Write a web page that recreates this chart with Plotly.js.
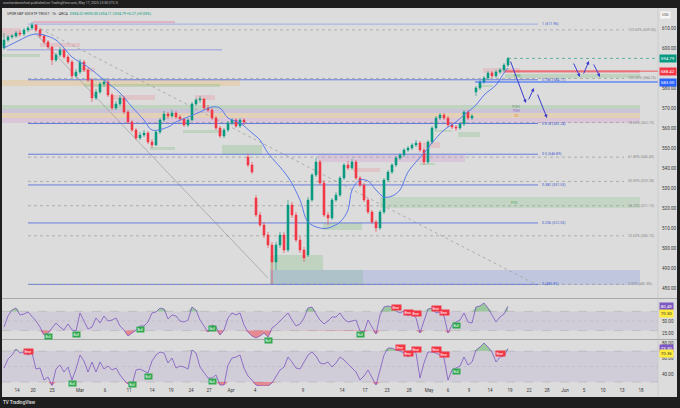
<!DOCTYPE html>
<html>
<head>
<meta charset="utf-8">
<script src="https://cdn.plot.ly/plotly-3.0.1.min.js"></script>
<style>
html,body{margin:0;padding:0;background:#1e1e1e;width:680px;height:408px;overflow:hidden;font-family:Roboto,"Liberation Sans",sans-serif}
#top{position:absolute;left:3px;top:1px;font-size:3.4px;color:#b8b8b8;white-space:nowrap}
#bottom{position:absolute;left:3px;top:400px;font-size:4.5px;color:#cfcfcf;font-weight:bold;white-space:nowrap}
#chart{position:absolute;left:2px;top:8px;width:675px;height:389px}
</style>
</head>
<body>
<div id="top">scottandsonsfinal published on TradingView.com, May 17, 2025 23:50 UTC-5</div>
<div id="chart"></div>
<div id="bottom">TV TradingView</div>
<script>
// candles (one bar per ~4 px)
var barOpen = [
  600, 604, 605.5, 606, 607.5, 607, 609, 610, 611.5, 609,
  606, 603, 600.5, 594, 596.5, 599, 595.5, 593, 586, 588,
  593, 589, 584, 575, 578, 582, 583, 576.5, 570, 572,
  575, 568, 563, 559, 555, 556.5, 557.5, 553, 551.5, 558,
  564, 567, 566, 567.5, 565.5, 564.5, 561.5, 564, 572, 574,
  574.5, 570, 569, 565, 560, 556, 559, 562.5, 564, 561,
  564, 545.5, 541.5, 525, 516.5, 511.5, 506.5, 501.5, 493, 501.5,
  506.5, 499, 521.5, 516.5, 504, 499, 496.5, 524, 536.5, 543,
  532.5, 516.5, 515, 524, 526.5, 535, 541.5, 540, 543, 535,
  531.5, 524, 518, 513, 510, 518, 534, 538, 541.5, 545,
  546.5, 549, 550, 551.5, 552.5, 549, 543, 553, 560, 565,
  566.5, 565, 561.5, 560.5, 560, 562, 568, 565, 578, 580,
  583, 585, 587.5, 586, 588, 589, 591.5
];
var barHigh = [
  607.5, 606.5, 607, 608.5, 609, 610, 611, 613, 612, 610,
  607, 604, 601, 597.5, 600.5, 600, 596.5, 594, 589.5, 594.5,
  594, 590, 585, 579.5, 583, 585, 584, 577.5, 573.5, 576.5,
  576, 569, 564, 560, 558, 559, 558.5, 554.5, 559, 565,
  568.5, 568, 569, 568.5, 566.5, 565, 565, 573, 575, 576,
  575, 571.5, 570, 566, 561, 560, 563.5, 565, 565, 565,
  565, 547, 543, 526.5, 518, 513, 508, 503, 503, 508,
  508, 524, 523, 518, 506, 500.5, 525.5, 537.5, 545, 544,
  534, 518, 525, 528, 536, 542.5, 543.5, 544.5, 544, 536,
  532.5, 525, 519, 514, 519, 535, 539, 542.5, 546, 547.5,
  550, 551, 552.5, 554, 553.5, 550, 554, 561, 566, 567.5,
  567.5, 566, 563, 561.5, 563, 569, 569, 567, 581, 584,
  586, 588.5, 588.5, 589, 590, 592.5, 595.5
];
var barLow = [
  599, 603, 604.5, 605, 606, 606, 608, 609, 608, 605,
  602, 599.5, 591.5, 593, 595.5, 594.5, 592, 585, 585, 587,
  588, 583, 573, 574, 577, 580.5, 575.5, 569, 569, 571,
  567, 562, 558, 554, 554, 555.5, 552, 550, 551, 557,
  563, 564.5, 565, 564.5, 563.5, 560.5, 560.5, 563.5, 571, 572.5,
  569, 568, 564, 559, 555, 555, 558, 561.5, 560, 560,
  561.5, 540.5, 537, 515.5, 510.5, 505, 500, 482, 489, 500,
  497.5, 498, 515, 503, 497.5, 493, 495.5, 523, 535.5, 531.5,
  515.5, 511.5, 514, 523, 525.5, 534, 539, 539, 534, 530.5,
  523, 517, 512, 508, 509, 517, 533, 537, 540.5, 544,
  545.5, 548, 549, 550.5, 548, 541.5, 542, 552, 559, 564,
  564, 560.5, 559.5, 558.5, 559, 561, 564, 564, 576, 579,
  582, 584, 585, 585, 587, 588, 590.5
];
var barClose = [
  604, 605.5, 606, 607.5, 607, 609, 610, 611.5, 609, 606,
  603, 600.5, 594, 596.5, 599, 595.5, 593, 586, 588, 593,
  589, 584, 575, 578, 582, 583, 576.5, 570, 572, 575,
  568, 563, 559, 555, 556.5, 557.5, 553, 551.5, 558, 564,
  567, 566, 567.5, 565.5, 564.5, 561.5, 564, 572, 574, 574.5,
  570, 569, 565, 560, 556, 559, 562.5, 564, 561, 564,
  563, 541.5, 538, 516.5, 511.5, 506.5, 501.5, 493, 501.5, 506.5,
  499, 521.5, 516.5, 504, 499, 495, 524, 536.5, 543, 532.5,
  516.5, 515, 524, 526.5, 535, 541.5, 540, 543, 535, 531.5,
  524, 518, 513, 510, 518, 534, 538, 541.5, 545, 546.5,
  549, 550, 551.5, 552.5, 549, 543, 553, 560, 565, 566.5,
  565, 561.5, 560.5, 560, 562, 568, 565, 566, 580, 583,
  585, 587.5, 586, 588, 589, 591.5, 594.79
];

// moving average, read at a few bars
var maBar = [0, 2, 4, 6, 8, 10, 13, 15, 17, 21, 25, 29, 32, 35, 37, 41, 43, 46, 49, 52, 54, 56, 59, 62, 64, 66, 71, 74, 76, 79, 81, 84, 86, 87, 89, 91, 93, 95, 97, 99, 101, 105, 107, 110, 113, 115, 118, 120, 123, 125, 126];
var maVal = [600, 602, 604, 606, 607, 606.5, 604, 600, 595.5, 590.5, 584, 577.5, 570.5, 564, 559, 560.5, 563, 565.5, 568, 570.5, 570, 565, 562.5, 557.5, 554, 547.5, 535.5, 524, 513, 510, 510, 513, 519, 529, 534, 533.5, 529, 525.5, 526, 529, 538, 547.5, 552.5, 559, 563, 566.5, 571.5, 576.5, 581.5, 587.5, 590];

// two RSI panes
var rsiFast = [
  37.5, 60.4, 72.9, 77, 62.5, 64.6, 68.8, 60.4, 50, 37.5,
  20.8, 25, 35.4, 45.8, 37.5, 31.3, 43.8, 31.3, 29.2, 66.7,
  50, 33.3, 37.5, 56.3, 45.8, 60.4, 50, 52, 56.3, 39.6,
  31.3, 18.8, 25, 31.3, 39.6, 39.6, 47.9, 66.7, 68.8, 77,
  75, 54.2, 62.5, 60.4, 50, 47.9, 52, 79.2, 72.9, 52,
  39.6, 27, 41.7, 37.5, 20.8, 31.3, 56.3, 66.7, 62.5, 66.7,
  41.7, 27, 18.8, 14.6, 18.8, 25, 16.7, 35.4, 41.7, 50,
  56.3, 66.7, 52, 39.6, 43.8, 56.3, 77, 79.2, 64.6, 52,
  43.8, 50, 58.3, 58.3, 66.7, 54.2, 47.9, 50, 52, 29.2,
  27, 52, 37.5, 22.9, 62.5, 79.2, 81.3, 79.2, 70.8, 66.7,
  70.8, 60.4, 66.7, 56.3, 25, 52, 75, 77, 66.7, 68.8,
  60.4, 25, 41.7, 47.9, 52, 66.7, 47.9, 45.8, 79.2, 81.3,
  87.5, 77, 62.5, 47.9, 58.3, 64.6, 80.49
];
var rsiSlow = [
  48.1, 59.7, 64.9, 72.6, 67.5, 68.8, 64.9, 67.5, 46.8, 48.1,
  32.6, 36.5, 25.5, 46.8, 52, 43, 49.4, 32.6, 46.8, 64.9,
  57.2, 43, 55.9, 43, 55.9, 46.8, 50.7, 45.5, 48.1, 39.1,
  32.6, 27.5, 26.2, 45.5, 46.8, 44.2, 41.7, 57.2, 64.9, 68.8,
  67.5, 54.6, 61, 48.1, 50.7, 49.4, 46.8, 71.4, 67.5, 49.4,
  41.7, 35.2, 35.2, 39.1, 26.2, 26.2, 52, 61, 62.3, 64.9,
  48.1, 37.8, 32.6, 26.2, 24.9, 25.2, 24.9, 28.8, 36.5, 45.5,
  49.4, 62.3, 55.9, 48.1, 46.8, 55.9, 64.9, 68.8, 63.6, 54.6,
  53.3, 55.9, 49.4, 54.6, 62.3, 58.5, 53.3, 48.1, 43, 32.6,
  37.8, 45.5, 35.2, 26.2, 45.5, 64.9, 73.9, 73.9, 71.4, 70.1,
  67.5, 62.3, 71.4, 67.5, 35.2, 54.6, 68.8, 68.8, 67.5, 64.9,
  61, 32.6, 45.5, 48.1, 50.7, 62.3, 52, 55.9, 71.4, 75.2,
  80.4, 75.2, 68.8, 55.9, 62.3, 63.6, 73.3
];
var fastSigBar = [11, 18, 34, 52, 66, 89, 98, 101, 103, 108, 110, 113];
var fastSigKind = ['Bull', 'Bull', 'Bull', 'Bull', 'Bull', 'Bull', 'Bear', 'Bear', 'Bear', 'Bear', 'Bear', 'Bull'];
var slowSigBar = [6, 17, 32, 36, 52, 99, 101, 103, 108, 110, 113, 124];
var slowSigKind = ['Bear', 'Bull', 'Bull', 'Bull', 'Bull', 'Bear', 'Bear', 'Bear', 'Bear', 'Bear', 'Bull', 'Bear'];

// fib levels
var fibRatio = ['1', '0.786', '0.618', '0.5', '0.382', '0.236', '0'];
var fibPrice = [611.96, 584.11, 562.24, 546.89, 531.53, 512.53, 481.81];
var extPct = ['0.00%', '23.60%', '38.20%', '50.00%', '61.80%', '78.60%', '100.00%', '123.60%'];
var extPrice = [481.80, 506.10, 521.13, 533.28, 545.43, 562.73, 584.76, 609.06];

// date axis
var dateBar = [3.25, 7.25, 12, 19, 25.25, 31.25, 37, 41.75, 46.75, 51.25, 56.75, 62.75, 74.75, 84.5, 90.25, 95.75, 101.25, 106.25, 111, 116.25, 121.5, 126.5, 131.25, 135.75, 140.25, 145, 149.75, 154.5, 159.25];
var dateText = ['14', '20', '25', 'Mar', '6', '11', '14', '19', '24', '27', 'Apr', '4', '9', '14', '17', '23', '28', 'May', '6', '9', '14', '19', '22', '28', 'Jun', '5', '10', '13', '18'];

// 590.00 sits under the price badges and is not shown
var priceTicks = [480, 490, 500, 510, 520, 530, 540, 550, 560, 570, 580, 600, 610];

// hand drawn projection (bar, price)
var projFrom = [[126.5, 594], [131, 573.5], [133.25, 577.5], [142.25, 593], [144.75, 586.5], [147.25, 592.5]];
var projTo = [[130.5, 572.5], [132.5, 580], [135.75, 565], [144, 585.5], [146.25, 593.5], [149, 585.5]];

var GREEN = 'rgba(76,175,80,0.20)', PINK = 'rgba(242,54,69,0.14)', LAV = 'rgba(149,117,205,0.24)',
    ORNG = 'rgba(255,152,0,0.17)', BLUE = 'rgba(92,124,230,0.22)', MAUVE = 'rgba(206,110,200,0.20)';
// zones: bar from, bar to, low, high, fill
var zones = [
  [-1, 159, 569.5, 571.5, GREEN], [-1, 159, 567.5, 569.5, LAV], [-1, 159, 565, 567.5, ORNG], [-1, 159, 562.5, 565, MAUVE],
  [-1, 59, 581, 584, ORNG], [20, 54, 580.5, 582, GREEN], [0.75, 54.5, 598.7, 599.5, 'rgba(110,125,225,0.45)'],
  [-1, 9, 595.5, 597, GREEN], [-0.5, 4, 605.5, 610, PINK], [9, 19, 600.5, 602.5, PINK], [19, 22.75, 588, 590, PINK],
  [27, 37.75, 574, 576.5, PINK], [47.75, 52.75, 574, 576.5, PINK], [44.75, 54.5, 557.5, 559, GREEN],
  [36.5, 42.75, 549, 550.5, GREEN], [54.5, 64.5, 546.5, 551.5, GREEN],
  [66.5, 159, 481.5, 489, BLUE], [66.5, 89.75, 481.5, 489, 'rgba(76,175,80,0.15)'], [66.5, 79.75, 489, 496.5, GREEN],
  [79.75, 89.5, 509, 512.5, GREEN], [94, 159, 520, 525.5, 'rgba(76,175,80,0.16)'], [78.5, 115.25, 543, 546.5, MAUVE],
  [87.25, 94, 538, 540, PINK], [104.75, 109, 550, 553, PINK], [104, 107.75, 541.5, 542.5, GREEN],
  [113.5, 119, 555.5, 558, GREEN], [107.75, 112, 558, 559, GREEN], [119.75, 129, 587.5, 590, PINK],
  [125.25, 159, 587.5, 589, 'rgba(242,54,69,0.28)'], [125.25, 159, 585, 587, GREEN], [118.5, 122.25, 580.5, 581.5, GREEN],
  [7.25, 42.75, 612.7, 613.3, 'rgba(233,90,150,0.6)']
];
// trendlines: from bar, from price, to bar, to price, dash
var trendlines = [[7.75, 607.5, 66, 485, 'solid'], [7.75, 611, 133.25, 481.5, 'dot']];

var bars = barClose.map(function (v, i) { return i; });
var traces = [];
traces.push({
  type: 'candlestick', x: bars, open: barOpen, high: barHigh, low: barLow, close: barClose,
  increasing: {line: {color: '#089981', width: 0.6}, fillcolor: '#089981'},
  decreasing: {line: {color: '#f23645', width: 0.6}, fillcolor: '#f23645'},
  whiskerwidth: 0, xaxis: 'x', yaxis: 'y', hoverinfo: 'skip'
});
traces.push({type: 'scatter', mode: 'lines', x: maBar, y: maVal, line: {color: '#5b7bea', width: 1, shape: 'spline'}, xaxis: 'x', yaxis: 'y', hoverinfo: 'skip'});

function rsiPane(vals, ax) {
  var hi = vals.map(function (v) { return Math.max(v, 70); });
  var lo = vals.map(function (v) { return Math.min(v, 30); });
  var c70 = vals.map(function () { return 70; });
  var c30 = vals.map(function () { return 30; });
  traces.push({type: 'scatter', mode: 'lines', x: bars, y: c70, line: {width: 0}, xaxis: 'x', yaxis: ax, hoverinfo: 'skip'});
  traces.push({type: 'scatter', mode: 'lines', x: bars, y: hi, line: {width: 0}, fill: 'tonexty', fillcolor: 'rgba(76,175,80,0.45)', xaxis: 'x', yaxis: ax, hoverinfo: 'skip'});
  traces.push({type: 'scatter', mode: 'lines', x: bars, y: c30, line: {width: 0}, xaxis: 'x', yaxis: ax, hoverinfo: 'skip'});
  traces.push({type: 'scatter', mode: 'lines', x: bars, y: lo, line: {width: 0}, fill: 'tonexty', fillcolor: 'rgba(242,54,69,0.5)', xaxis: 'x', yaxis: ax, hoverinfo: 'skip'});
  traces.push({type: 'scatter', mode: 'lines', x: bars, y: vals, line: {color: '#7e57c2', width: 0.8}, xaxis: 'x', yaxis: ax, hoverinfo: 'skip'});
}
rsiPane(rsiFast, 'y2');
rsiPane(rsiSlow, 'y3');

var shapes = [], annotations = [];
zones.forEach(function (z) {
  shapes.push({type: 'rect', xref: 'x', yref: 'y', x0: z[0], x1: z[1], y0: z[2], y1: z[3], fillcolor: z[4], line: {width: 0}, layer: 'below'});
});
trendlines.forEach(function (t) {
  shapes.push({type: 'line', xref: 'x', yref: 'y', x0: t[0], y0: t[1], x1: t[2], y1: t[3], line: {color: '#a3a3a3', width: 0.8, dash: t[4]}, layer: 'below'});
});
fibPrice.forEach(function (p, i) {
  shapes.push({type: 'line', xref: 'x', yref: 'y', x0: 6, x1: 133.5, y0: p, y1: p, line: {color: i === 0 ? '#9aa6e8' : '#5a72dc', width: 0.9}, layer: 'below'});
  annotations.push({xref: 'x', yref: 'y', x: 134, y: p, xanchor: 'left', yanchor: 'middle', showarrow: false,
    text: fibRatio[i] + ' (' + p.toFixed(2) + ')', font: {size: 3.6, color: '#3f57cc'}});
});
extPrice.forEach(function (p, i) {
  shapes.push({type: 'line', xref: 'x', yref: 'y', x0: 6, x1: 155, y0: p, y1: p, line: {color: '#9c9c9c', width: 0.7, dash: 'dot'}, layer: 'below'});
  annotations.push({xref: 'x', yref: 'y', x: 155.5, y: p, xanchor: 'left', yanchor: 'middle', showarrow: false,
    text: extPct[i] + ' (' + p.toFixed(2) + ')', font: {size: 3.6, color: '#8a8a8a'}});
});
// levels near the last price
shapes.push({type: 'line', xref: 'x', yref: 'y', x0: 117.75, x1: 163.5, y0: 583, y1: 583, line: {color: '#2962ff', width: 1}});
shapes.push({type: 'line', xref: 'x', yref: 'y', x0: 125.25, x1: 163.5, y0: 588.42, y1: 588.42, line: {color: '#f23645', width: 0.8}});
shapes.push({type: 'line', xref: 'x', yref: 'y', x0: 126, x1: 163.5, y0: 594.79, y1: 594.79, line: {color: '#089981', width: 0.6, dash: 'dot'}});

[['PWH', 570.7, '#7c9c7e'], ['PDH', 568.5, '#8e6fc8'], ['YO', 566, '#e08a2a']].forEach(function (l) {
  annotations.push({xref: 'x', yref: 'y', x: 128, y: l[1], showarrow: false, text: l[0], font: {size: 3.4, color: l[2]}});
});
annotations.push({xref: 'x', yref: 'y', x: 127.5, y: 522.7, showarrow: false, text: 'FVG', font: {size: 3.4, color: '#4caf50'}});
annotations.push({xref: 'x', yref: 'y', x: 128.3, y: 586, showarrow: false, text: 'FVG', font: {size: 3.4, color: '#4caf50'}});

projFrom.forEach(function (f, i) {
  annotations.push({xref: 'x', yref: 'y', axref: 'x', ayref: 'y', x: projTo[i][0], y: projTo[i][1], ax: f[0], ay: f[1],
    text: '', showarrow: true, arrowhead: 2, arrowsize: 0.7, arrowwidth: 1, arrowcolor: '#3c3cd2'});
});

// RSI pane decorations
[['y2', rsiFast], ['y3', rsiSlow]].forEach(function (p) {
  shapes.push({type: 'rect', xref: 'paper', yref: p[0], x0: 0, x1: 1, y0: 30, y1: 70, fillcolor: 'rgba(126,87,194,0.11)', line: {width: 0}, layer: 'below'});
  [30, 70].forEach(function (v) {
    shapes.push({type: 'line', xref: 'paper', yref: p[0], x0: 0, x1: 1, y0: v, y1: v, line: {color: 'rgba(120,120,120,0.45)', width: 0.5, dash: 'dash'}, layer: 'below'});
  });
  shapes.push({type: 'line', xref: 'paper', yref: p[0], x0: 0, x1: 1, y0: 50, y1: 50, line: {color: 'rgba(120,120,120,0.3)', width: 0.5, dash: 'dot'}, layer: 'below'});
});
function sigLabels(barsIdx, kinds, vals, ax, floor) {
  barsIdx.forEach(function (b, i) {
    var bull = kinds[i] === 'Bull';
    annotations.push({xref: 'x', yref: ax, x: b, y: Math.max(vals[b], floor), yshift: bull ? -3.5 : 4, showarrow: false, text: kinds[i],
      bgcolor: bull ? '#2fa84f' : '#f23645', borderpad: 0.6, font: {size: 3.2, color: '#ffffff'}});
  });
}
sigLabels(fastSigBar, fastSigKind, rsiFast, 'y2', 0);
sigLabels(slowSigBar, slowSigKind, rsiSlow, 'y3', 32);

// pane separators and price scale edge
[0.2327, 0.1237].forEach(function (yy) {
  shapes.push({type: 'line', xref: 'paper', yref: 'paper', x0: 0, x1: 1.03, y0: yy, y1: yy, line: {color: '#a8a8a8', width: 1}});
});
shapes.push({type: 'line', xref: 'paper', yref: 'paper', x0: 1, x1: 1, y0: -0.03, y1: 1.01, line: {color: '#c4c4c4', width: 0.6}});

// price scale badges
function badge(ax, v, txt, bg, fg, shift) {
  annotations.push({xref: 'paper', yref: ax, x: 1, y: v, xanchor: 'left', xshift: 1, yshift: shift || 0, showarrow: false,
    text: txt, bgcolor: bg, borderpad: 0.8, font: {size: 4.4, color: fg}});
}
badge('y', 594.79, '594.79', '#089981', '#ffffff');
badge('y', 588.42, '588.42', '#f23645', '#ffffff');
badge('y', 583, '583.00', '#2962ff', '#ffffff');
badge('y2', rsiFast[rsiFast.length - 1], '80.49', '#7e57c2', '#ffffff');
badge('y2', 70.5, '70.50', '#ffeb3b', '#333333', -2);
badge('y3', rsiSlow[rsiSlow.length - 1], '73.30', '#7e57c2', '#ffffff');
badge('y3', 70.36, '70.36', '#ffeb3b', '#333333', -3);
annotations.push({xref: 'paper', yref: 'paper', x: 1, y: 1, xanchor: 'left', yanchor: 'top', xshift: 2, yshift: -1, showarrow: false,
  text: 'USD', bgcolor: '#f6f6f6', borderpad: 1, font: {size: 3.4, color: '#444'}});

// legend line
annotations.push({xref: 'paper', yref: 'paper', x: 0, y: 1, xanchor: 'left', yanchor: 'top', xshift: 3, yshift: 0, showarrow: false, align: 'left',
  text: 'SPDR S&P 500 ETF TRUST · 1h · ARCA  <span style="color:#089981">O594.52 H595.00 L594.11 C594.79 +0.27 (+0.05%)</span>',
  font: {size: 3.6, color: '#333'}});

var axFont = {size: 4.6, color: '#3a3a3a', family: 'Roboto, sans-serif'};
var layout = {
  width: 675, height: 389,
  margin: {l: 0, r: 19, t: 2, b: 11},
  paper_bgcolor: '#dcdcdc', plot_bgcolor: '#dcdcdc',
  showlegend: false,
  font: {family: 'Roboto, sans-serif'},
  xaxis: {range: [-0.5, 163.5], anchor: 'y3', tickmode: 'array', tickvals: dateBar, ticktext: dateText, tickfont: axFont,
    showgrid: false, zeroline: false, showline: false, ticks: '', rangeslider: {visible: false}, fixedrange: true},
  yaxis: {domain: [0.2367, 1], range: [475.5, 619], side: 'right', anchor: 'x', tickmode: 'array', tickvals: priceTicks,
    ticktext: priceTicks.map(function (v) { return v.toFixed(2); }), tickfont: axFont, ticklabelstandoff: 3,
    showgrid: false, zeroline: false, ticks: ''},
  yaxis2: {domain: [0.125, 0.2287], range: [12.5, 93.75], side: 'right', anchor: 'x', tickmode: 'array', tickvals: [25, 50],
    ticktext: ['25.00', '50.00'], tickfont: axFont, ticklabelstandoff: 3, showgrid: false, zeroline: false, ticks: ''},
  yaxis3: {domain: [0, 0.1223], range: [24.9, 84.3], side: 'right', anchor: 'x', tickmode: 'array', tickvals: [40, 60, 80],
    ticktext: ['40.00', '60.00', '80.00'], tickfont: axFont, ticklabelstandoff: 3, showgrid: false, zeroline: false, ticks: ''},
  shapes: shapes,
  annotations: annotations
};
Plotly.newPlot('chart', traces, layout, {displayModeBar: false, staticPlot: true});
</script>
</body>
</html>
